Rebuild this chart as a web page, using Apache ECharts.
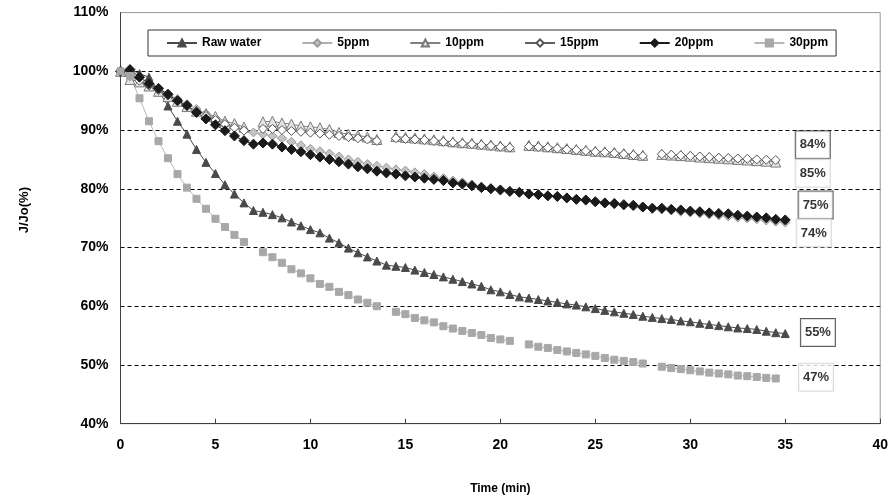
<!DOCTYPE html>
<html>
<head>
<meta charset="utf-8">
<script src="https://cdn.jsdelivr.net/npm/echarts@6/dist/echarts.min.js"></script>
<style>
html,body{margin:0;padding:0;background:#fff;}
#chart{width:891px;height:501px;}
</style>
</head>
<body>
<div id="chart"></div>
<script>
// ---- data ----
const times = [0,0.5,1,1.5,2,2.5,3,3.5,4,4.5,5,5.5,6,6.5,7,7.5,8,8.5,9,9.5,
  10,10.5,11,11.5,12,12.5,13,13.5,14,14.5,15,15.5,16,16.5,17,17.5,18,18.5,19,19.5,
  20,20.5,21,21.5,22,22.5,23,23.5,24,24.5,25,25.5,26,26.5,27,27.5,28,28.5,29,29.5,
  30,30.5,31,31.5,32,32.5,33,33.5,34,34.5,35];

const seriesNames = ['Raw water','5ppm','10ppm','15ppm','20ppm','30ppm'];

const rawWater = [100,100.4,99.6,99.0,96.7,94.1,91.5,89.3,86.7,84.5,
  82.6,80.7,79.1,77.6,76.3,76.0,75.6,75.05,74.35,73.7,
  73.05,72.5,71.6,70.8,69.9,69.1,68.4,67.7,67.0,66.8,
  66.6,66.15,65.75,65.4,65.0,64.6,64.2,63.8,63.4,62.8,
  62.45,62.0,61.6,61.4,61.15,60.9,60.65,60.4,60.2,59.9,
  59.6,59.3,59.05,58.8,58.6,58.3,58.1,57.9,57.75,57.5,
  57.35,57.1,56.9,56.7,56.5,56.3,56.2,56.05,55.75,55.5,
  55.35];

const ppm5 = [100,99.4,98.6,97.8,97.0,96.1,95.3,94.4,93.6,92.8,
  92.0,91.3,90.6,90.0,89.6,89.3,89.0,88.6,88.0,87.4,
  86.8,86.4,86.0,85.5,85.0,84.6,84.2,83.9,83.6,83.3,
  83.1,82.8,82.5,82.1,81.8,81.4,81.1,80.75,80.4,80.1,
  79.85,79.6,79.4,79.15,78.95,78.75,78.6,78.35,78.15,77.95,
  77.7,77.5,77.35,77.15,77.0,76.8,76.6,76.45,76.3,76.1,
  75.95,75.8,75.6,75.45,75.3,75.1,74.95,74.8,74.6,74.4,
  74.25];

const ppm10 = [100,98.6,98.2,97.5,96.6,95.7,94.9,94.0,93.2,92.8,92.3,91.5,91.1,90.5,
  null,
  91.4,91.5,91.2,91.0,90.7,90.55,90.4,90.1,89.6,89.3,89.1,88.8,88.4,
  null,
  88.9,88.75,88.65,88.5,88.35,88.2,88.0,87.85,87.75,87.6,87.45,87.3,87.15,
  null,
  87.4,87.3,87.15,87.0,86.85,86.7,86.55,86.4,86.3,86.2,86.0,85.85,85.7,
  null,
  85.85,85.75,85.65,85.55,85.4,85.3,85.2,85.1,85.0,84.9,84.8,84.7,84.55,
  null];

const ppm15 = [100,99.2,98.4,97.6,96.8,95.9,95.0,94.1,93.2,92.4,91.7,91.0,90.4,89.9,
  null,
  90.2,90.2,90.0,89.85,89.7,89.55,89.4,89.2,89.0,88.8,88.6,88.4,88.15,
  null,
  88.6,88.5,88.4,88.3,88.15,88.0,87.85,87.7,87.6,87.45,87.3,87.15,87.0,
  null,
  87.2,87.1,87.0,86.85,86.7,86.6,86.45,86.3,86.2,86.05,85.9,85.75,85.6,
  null,
  85.9,85.8,85.7,85.6,85.5,85.4,85.3,85.25,85.15,85.1,85.0,84.95,84.9,
  null];

const ppm20 = [100,100.3,99.0,97.9,97.1,96.1,95.0,94.2,93.0,91.9,
  90.9,89.9,89.0,88.2,87.6,87.8,87.6,87.1,86.7,86.3,
  85.8,85.4,85.0,84.6,84.2,83.75,83.4,83.0,82.7,82.5,
  82.2,82.0,81.8,81.6,81.4,81.0,80.8,80.5,80.2,80.0,
  79.8,79.55,79.4,79.1,79.0,78.8,78.7,78.45,78.2,78.1,
  77.8,77.6,77.5,77.3,77.2,76.9,76.7,76.7,76.5,76.4,
  76.2,76.1,75.9,75.8,75.75,75.5,75.35,75.2,75.05,74.8,
  74.7];

const ppm30 = [100,99.2,95.4,91.5,88.1,85.2,82.5,80.2,78.3,76.6,74.9,73.5,72.15,70.95,
  null,
  69.2,68.35,67.4,66.3,65.6,64.75,63.8,63.3,62.45,61.9,61.15,60.6,60.0,
  null,
  59.05,58.65,58.0,57.6,57.25,56.6,56.2,55.8,55.45,55.1,54.6,54.35,54.1,
  null,
  53.5,53.1,52.9,52.55,52.3,52.05,51.8,51.55,51.2,50.9,50.7,50.5,50.25,
  null,
  49.7,49.5,49.3,49.1,48.9,48.7,48.55,48.4,48.2,48.1,47.95,47.8,47.7,
  null];

const yTicks = [40,50,60,70,80,90,100,110];
const xTicks = [0,5,10,15,20,25,30,35,40];

// end-of-run annotation texts
const labelTexts = ['84%','85%','75%','74%','55%','47%'];

// ---- layout / style (not data) ----
const labelPlace = [[36.45,87.5],[36.45,82.65],[36.6,77.24],[36.5,72.47],[36.72,55.53],[36.62,47.9]];
const labelDark = [true,false,true,false,true,false];

const FONT = "'Liberation Sans', Arial, Helvetica, sans-serif";

function pairs(vals){
  return vals.map((v,i)=> [times[i], v === null ? '-' : v]);
}

const styles = {
  'Raw water': {symbol:'triangle', size:8, fill:'#4a4a4a', border:'#4a4a4a', line:'#4a4a4a'},
  '5ppm':      {symbol:'diamond',  size:9, fill:'#c4c4c4', border:'#9a9a9a', line:'#b0b0b0'},
  '10ppm':     {symbol:'triangle', size:10, fill:'#e4e4e4', border:'#7a7a7a', line:'#808080'},
  '15ppm':     {symbol:'diamond',  size:9, fill:'#ffffff', border:'#555555', line:'#606060'},
  '20ppm':     {symbol:'diamond',  size:10, fill:'#1a1a1a', border:'#1a1a1a', line:'#1a1a1a'},
  '30ppm':     {symbol:'rect',     size:7, fill:'#a8a8a8', border:'#a8a8a8', line:'#b8b8b8'}
};
const valuesByName = {'Raw water':rawWater,'5ppm':ppm5,'10ppm':ppm10,'15ppm':ppm15,'20ppm':ppm20,'30ppm':ppm30};

const lineSeries = seriesNames.map(name => {
  const s = styles[name];
  return {
    name: name,
    type: 'line',
    data: pairs(valuesByName[name]),
    symbol: s.symbol,
    symbolSize: s.size,
    showSymbol: true,
    connectNulls: false,
    lineStyle: {color: s.line, width: 1},
    itemStyle: {color: s.fill, borderColor: s.border, borderWidth: 1},
    emphasis: {disabled: true},
    animation: false
  };
});

const labelSeries = {
  name: 'labels',
  type: 'scatter',
  silent: true,
  symbol: 'rect',
  symbolSize: 1,
  itemStyle: {color: 'rgba(0,0,0,0)'},
  z: 10,
  data: labelTexts.map((txt,i)=>({
    value: labelPlace[i],
    label: {
      show: true,
      position: 'inside',
      formatter: txt,
      fontFamily: FONT,
      fontSize: 13,
      fontWeight: 'bold',
      color: '#000',
      backgroundColor: '#fff',
      borderColor: labelDark[i] ? '#333' : '#d0d0d0',
      borderWidth: 1,
      padding: [7,4,7,4]
    }
  })),
  animation: false
};

const chart = echarts.init(document.getElementById('chart'), null, {renderer:'canvas'});
chart.setOption({
  backgroundColor: '#fff',
  animation: false,
  textStyle: {fontFamily: FONT},
  grid: {left: 120.5, right: 8, top: 12.6, bottom: 77.3, show: true, borderColor: '#999', borderWidth: 1, backgroundColor: 'transparent'},
  legend: {
    data: seriesNames,
    left: 148, top: 30,
    orient: 'horizontal',
    padding: [7,8,7,18],
    itemGap: 40,
    itemWidth: 30,
    itemHeight: 9,
    borderColor: '#333',
    borderWidth: 1,
    backgroundColor: '#fff',
    textStyle: {fontFamily: FONT, fontSize: 12, fontWeight: 'bold', color: '#000'},
    selectedMode: false
  },
  xAxis: {
    type: 'value',
    min: xTicks[0], max: xTicks[xTicks.length-1], interval: 5,
    name: 'Time (min)',
    nameLocation: 'middle',
    nameGap: 59,
    nameTextStyle: {fontFamily: FONT, fontSize: 12, fontWeight: 'bold', color: '#000'},
    axisLine: {show: true, onZero: false, lineStyle: {color: '#404040', width: 1}},
    axisTick: {show: true, inside: true, length: 5, lineStyle: {color: '#404040'}},
    axisLabel: {fontFamily: FONT, fontSize: 14, fontWeight: 'bold', color: '#000', margin: 14},
    splitLine: {show: false}
  },
  yAxis: {
    type: 'value',
    min: yTicks[0], max: yTicks[yTicks.length-1], interval: 10,
    name: 'J/Jo(%)',
    nameLocation: 'middle',
    nameGap: 90,
    nameRotate: 90,
    nameTextStyle: {fontFamily: FONT, fontSize: 13, fontWeight: 'bold', color: '#000', padding: [0,0,0,16]},
    axisLine: {show: true, lineStyle: {color: '#404040', width: 1}},
    axisTick: {show: false},
    axisLabel: {fontFamily: FONT, fontSize: 14, fontWeight: 'bold', color: '#000', margin: 12, formatter: '{value}%'},
    splitLine: {show: true, lineStyle: {type: [4,3], width: 1,
      color: ['rgba(0,0,0,0)','#000','#000','#000','#000','#000','#000','rgba(0,0,0,0)']}}
  },
  series: lineSeries.concat([labelSeries])
});
</script>
</body>
</html>
